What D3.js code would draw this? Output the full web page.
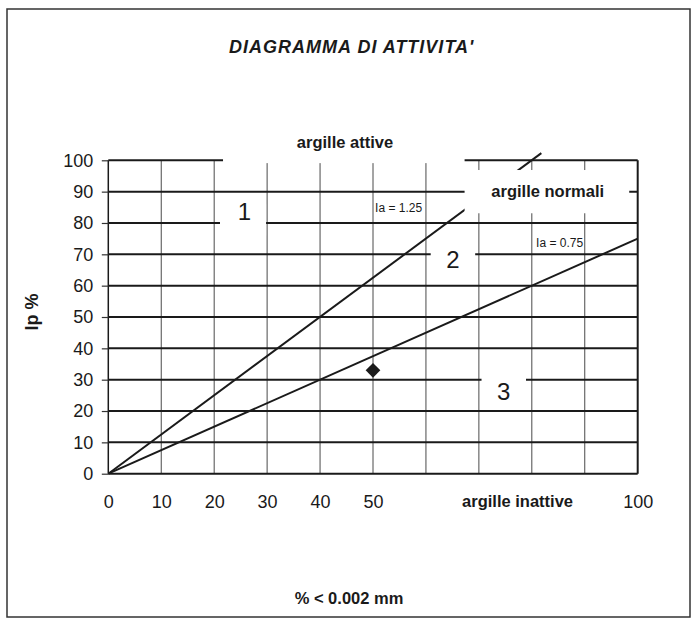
<!DOCTYPE html>
<html><head><meta charset="utf-8">
<script src="https://cdn.jsdelivr.net/npm/d3@7"></script>
<style>body{margin:0;background:#fff} svg{display:block} text{font-family:"Liberation Sans",Arial,Helvetica,sans-serif;fill:#1a1a1a}</style>
</head><body><svg id="c" width="697" height="624"></svg>
<script>
// ---- data ----
const xTickValues = [0, 10, 20, 30, 40, 50, 100];
const yTickValues = [0, 10, 20, 30, 40, 50, 60, 70, 80, 90, 100];
const gridXValues = [10, 20, 30, 40, 50, 60, 70, 80, 90];
const gridYValues = [10, 20, 30, 40, 50, 60, 70, 80, 90, 100];
const lineIa125 = [[0, 0], [81.8, 102.3]];
const lineIa075 = [[0, 0], [100, 75]];
const sampleX = [50];
const sampleY = [33];
const zoneLabels = ["1", "2", "3"];
const areaLabels = ["argille attive", "argille normali", "argille inattive"];
const iaLabels = ["Ia = 1.25", "Ia = 0.75"];

// ---- layout ----
const svg = d3.select("#c");
const x = d3.scaleLinear().domain([0, 100]).range([108.3, 637.7]);
const y = d3.scaleLinear().domain([0, 100]).range([473.7, 160.3]);
const dark = "#1a1a1a";

// frame
svg.append("rect").attr("x", 7).attr("y", 9).attr("width", 683).attr("height", 608)
  .attr("fill", "none").attr("stroke", "#333").attr("stroke-width", 1.5);

// title
svg.append("text").attr("x", 351.7).attr("y", 53.3).attr("text-anchor", "middle")
  .style("font-size", "18px").style("font-weight", "bold").style("font-style", "italic")
  .style("letter-spacing", "1px")
  .text("DIAGRAMMA DI ATTIVITA'");

const g = svg.append("g");

// vertical gridlines
g.selectAll("line.vx").data(gridXValues).join("line").attr("class", "vx")
  .attr("x1", d => x(d)).attr("x2", d => x(d)).attr("y1", y(0)).attr("y2", y(100))
  .attr("stroke", "#4a4a4a").attr("stroke-width", 1);

// horizontal gridlines
g.selectAll("line.hy").data(gridYValues).join("line").attr("class", "hy")
  .attr("x1", x(0)).attr("x2", x(100)).attr("y1", d => y(d)).attr("y2", d => y(d))
  .attr("stroke", dark).attr("stroke-width", 2);

// right border and baseline
g.append("line").attr("x1", x(100)).attr("x2", x(100)).attr("y1", y(0)).attr("y2", y(100))
  .attr("stroke", dark).attr("stroke-width", 2);
g.append("line").attr("x1", x(0)).attr("x2", x(100)).attr("y1", y(0)).attr("y2", y(0))
  .attr("stroke", dark).attr("stroke-width", 2);

// activity lines
const lineGen = d3.line().x(d => x(d[0])).y(d => y(d[1]));
[lineIa125, lineIa075].forEach(pts => {
  g.append("path").attr("d", lineGen(pts)).attr("fill", "none")
    .attr("stroke", dark).attr("stroke-width", 2);
});

// white label boxes (data-space bounds)
function box(x0, x1, y0, y1) {
  g.append("rect").attr("x", x(x0)).attr("y", y(y1))
    .attr("width", x(x1) - x(x0)).attr("height", y(y0) - y(y1)).attr("fill", "#fff");
}
box(21.67, 67.3, 99.1, 112);   // argille attive
box(21.1, 29.8, 76, 86);       // 1
box(60.9, 69.3, 65, 75);       // 2
box(70.5, 78.9, 25, 35);       // 3
box(67.3, 98.4, 83.1, 96.9);   // argille normali

// left axis line
g.append("line").attr("x1", x(0)).attr("x2", x(0)).attr("y1", y(0)).attr("y2", y(100))
  .attr("stroke", dark).attr("stroke-width", 1.5);

// y axis
const yAxis = d3.axisLeft(y).tickValues(yTickValues).tickSize(6.5).tickPadding(8.5);
const ya = svg.append("g").attr("transform", `translate(${x(0)},0)`).call(yAxis);
ya.select(".domain").remove();
ya.selectAll(".tick line").attr("stroke", "#333").attr("stroke-width", 1.2);
ya.selectAll(".tick text").style("font-size", "18px").style("font-family", "Liberation Sans, Arial, sans-serif").attr("fill", "#222");

// x axis
const xAxis = d3.axisBottom(x).tickValues(xTickValues).tickSize(0);
const xa = svg.append("g").attr("transform", `translate(0,${y(0)})`).call(xAxis);
xa.select(".domain").remove();
xa.selectAll(".tick text").attr("y", 34).attr("dy", 0).style("font-size", "18px")
  .style("font-family", "Liberation Sans, Arial, sans-serif").attr("fill", "#222");

// zone numbers
const zonePos = [[25.7, 80.8], [65.1, 65.6], [74.7, 23.4]];
zoneLabels.forEach((t, i) => {
  svg.append("text").attr("x", x(zonePos[i][0])).attr("y", y(zonePos[i][1]))
    .attr("text-anchor", "middle").style("font-size", "24px").text(t);
});

// area labels
const areaPos = [[44.7, 104.0], [83.0, 88.3], [77.3, -10.6]];
areaLabels.forEach((t, i) => {
  svg.append("text").attr("x", x(areaPos[i][0])).attr("y", y(areaPos[i][1]))
    .attr("text-anchor", "middle").style("font-size", "16.5px").style("font-weight", "bold").text(t);
});

// Ia labels
const iaPos = [[50.4, 83.5], [80.8, 72.2]];
iaLabels.forEach((t, i) => {
  svg.append("text").attr("x", x(iaPos[i][0])).attr("y", y(iaPos[i][1]))
    .style("font-size", "12px").text(t);
});

// sample point
svg.selectAll("path.pt").data(sampleX.map((v, i) => [v, sampleY[i]])).join("path").attr("class", "pt")
  .attr("d", d3.symbol().type(d3.symbolSquare).size(108))
  .attr("transform", d => `translate(${x(d[0])},${y(d[1])}) rotate(45)`)
  .attr("fill", dark);

// axis titles
svg.append("text").attr("transform", "translate(38,312) rotate(-90)").attr("text-anchor", "middle")
  .style("font-size", "18px").style("font-weight", "bold").text("Ip %");
svg.append("text").attr("x", 349).attr("y", 604).attr("text-anchor", "middle")
  .style("font-size", "16.5px").style("font-weight", "bold").text("% < 0.002 mm");
</script></body></html>
